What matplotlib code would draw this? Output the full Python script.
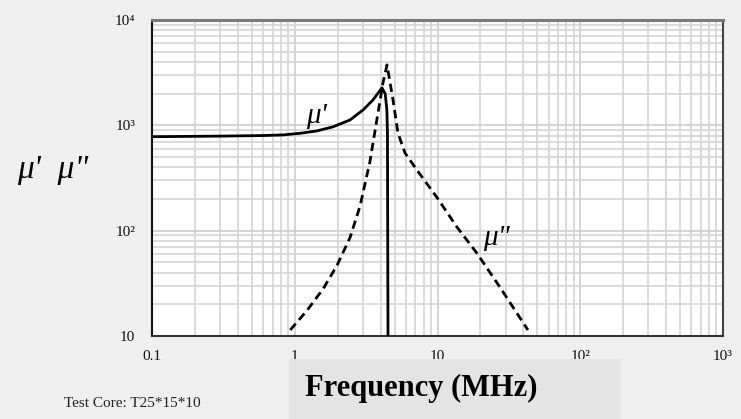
import matplotlib
matplotlib.use("Agg")
import matplotlib.pyplot as plt
from matplotlib.patches import Rectangle
from matplotlib.ticker import LogLocator, NullFormatter

# ---- data ----
freq_mu1 = [0.1, 0.3, 0.6, 0.83, 1.09, 1.43, 1.85, 2.44, 3.01, 3.53, 4.08, 4.3,
            4.42, 4.46, 4.5]
mu1 = [780, 790, 800, 811, 840, 885, 967, 1125, 1400, 1740, 2270, 2000,
       1400, 850, 10]

freq_mu2 = [0.93, 1.22, 1.58, 1.98, 2.44, 2.87, 3.36, 3.83, 4.15, 4.43, 4.88, 5.28,
            5.92, 7.17, 9.9, 13.7, 18.9, 27.4, 43.0]
mu2 = [11.4, 17.5, 28, 47, 86, 172, 450, 1312, 2530, 3750, 1740, 847,
       547, 377, 207, 108, 61, 29, 11.4]

xticks = [0.1, 1, 10, 100, 1000]
xticklabels = ["0.1", "1", "10", "10²", "10³"]
yticks = [10, 100, 1000, 10000]
yticklabels = ["10", "10²", "10³", "10⁴"]

SERIF = ["Liberation Serif", "DejaVu Serif"]
plt.rcParams["font.family"] = SERIF

fig = plt.figure(figsize=(7.41, 4.19), dpi=100)
fig.patch.set_facecolor("#efefef")

# grey box behind x-axis title
fig.patches.append(Rectangle((289 / 741, 0), (621 - 289) / 741, 1 - 359 / 419,
                             transform=fig.transFigure, facecolor="#e4e4e4",
                             edgecolor="none", zorder=0))

ax = fig.add_axes([152 / 741, 1 - 336 / 419, (723 - 152) / 741, (336 - 20) / 419])
ax.set_facecolor("white")
ax.set_xscale("log")
ax.set_yscale("log")
ax.set_xlim(0.1, 1000)
ax.set_ylim(10, 10000)

ax.plot(freq_mu1, mu1, color="black", lw=2.0, solid_joinstyle="round", zorder=3)
ax.plot(freq_mu2, mu2, color="black", lw=2.0, linestyle=(0, (3, 1.8)), zorder=3)

ax.set_xticks(xticks)
ax.set_xticklabels(xticklabels)
ax.set_yticks(yticks)
ax.set_yticklabels(yticklabels)
ax.xaxis.set_minor_locator(LogLocator(base=10, subs=range(2, 10), numticks=20))
ax.yaxis.set_minor_locator(LogLocator(base=10, subs=range(2, 10), numticks=20))
ax.xaxis.set_minor_formatter(NullFormatter())
ax.yaxis.set_minor_formatter(NullFormatter())
ax.tick_params(which="both", length=0, labelsize=11, colors="#111111")
ax.tick_params(axis="x", pad=10)
ax.tick_params(axis="y", pad=12)

ax.grid(True, which="major", color="#cdcdcd", lw=1.2, zorder=0)
ax.grid(True, which="minor", color="#d4d4d4", lw=1.2, zorder=0)
ax.set_axisbelow(True)

ax.spines["top"].set_color("#7a7a7a")
ax.spines["top"].set_linewidth(2.2)
ax.spines["left"].set_color("#111111")
ax.spines["left"].set_linewidth(1.5)
ax.spines["bottom"].set_color("#333333")
ax.spines["bottom"].set_linewidth(1.5)
ax.spines["right"].set_color("#444444")
ax.spines["right"].set_linewidth(1.5)

# curve labels
ax.text(1.41, 1230, "μ'", fontsize=21, style="italic", ha="center", va="center",
        family=SERIF)
ax.text(26.0, 85, "μ\"", fontsize=21, style="italic", ha="center", va="center",
        family=SERIF)

# y-axis label
fig.text(53 / 741, 1 - 170 / 419, "μ'  μ\"", fontsize=24, style="italic",
         ha="center", va="center", family=SERIF)

# x-axis title
fig.text(421 / 741, 1 - 388 / 419, "Frequency (MHz)", fontsize=22, fontweight="bold",
         ha="center", va="center", family=SERIF)

fig.text(64 / 741, 1 - 403 / 419, "Test Core: T25*15*10", fontsize=11,
         ha="left", va="center", family=SERIF, color="#222222")

fig.savefig("out.png", dpi=100, facecolor=fig.get_facecolor())
